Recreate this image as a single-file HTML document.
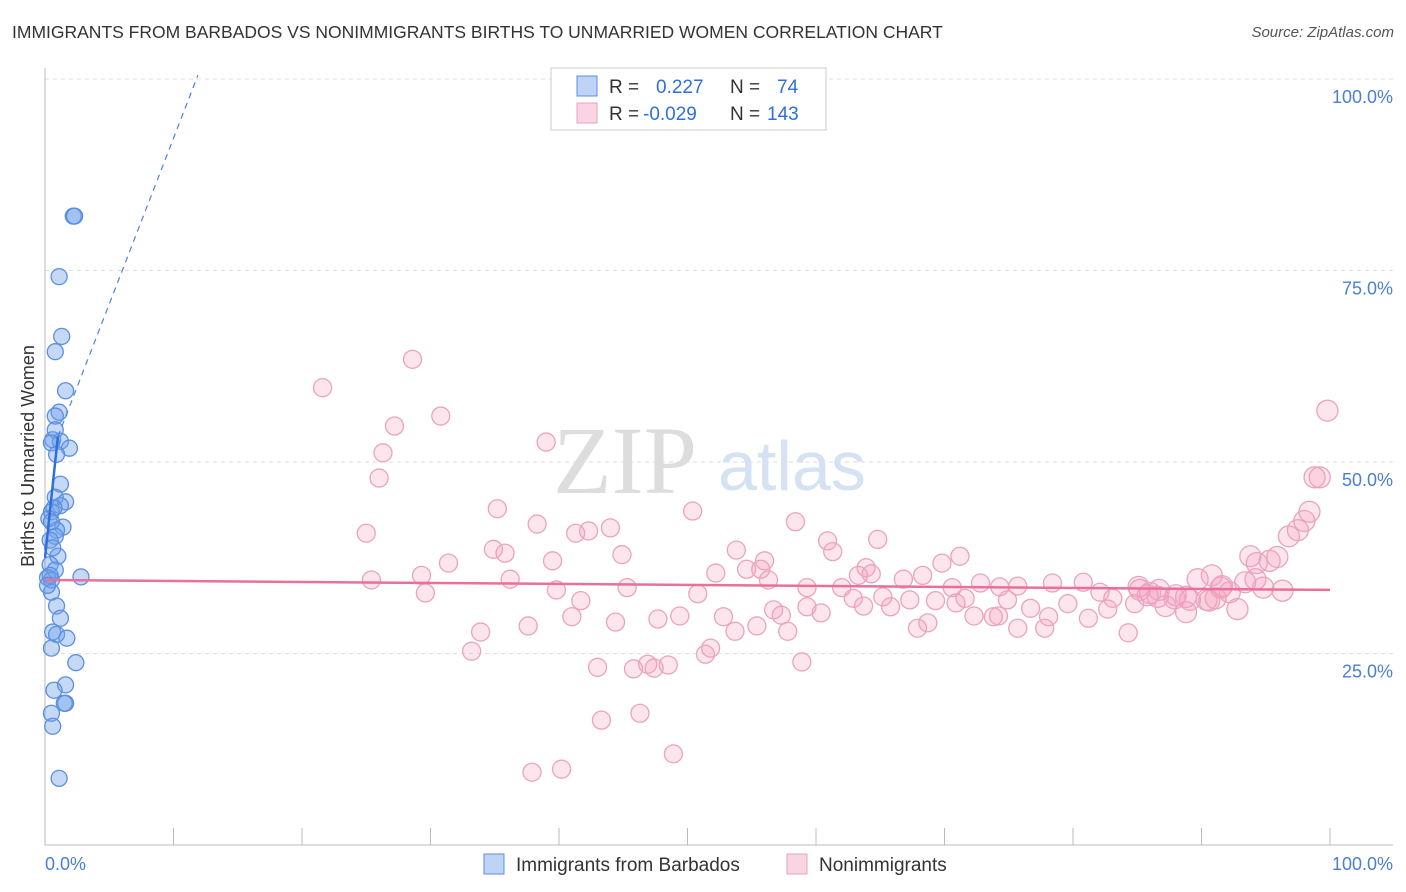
<!DOCTYPE html>
<html><head><meta charset="utf-8">
<style>
body{margin:0;background:#fff;font-family:"Liberation Sans",sans-serif;}
#wrap{position:relative;width:1406px;height:892px;overflow:hidden;}
.title{position:absolute;left:12px;top:22px;font-size:17.5px;color:#333;}
.src{position:absolute;right:12px;top:24px;font-size:15px;color:#555;font-style:italic;}
</style></head><body>
<div id="wrap">
<div class="title">IMMIGRANTS FROM BARBADOS VS NONIMMIGRANTS BIRTHS TO UNMARRIED WOMEN CORRELATION CHART</div>
<div class="src">Source: ZipAtlas.com</div>
<svg id="chart" width="1406" height="892" style="position:absolute;left:0;top:0"></svg>
</div>
<script>
const blueX=[2.2,2.3,1.1,1.3,0.8,1.6,1.1,0.8,0.6,1.2,1.9,0.8,0.5,1.2,0.8,1.6,1.2,0.5,1.4,0.9,0.8,0.4,1.0,0.6,0.4,0.8,0.2,0.5,2.8,0.5,0.9,1.2,0.6,0.9,1.7,0.5,2.4,1.6,0.7,1.6,1.5,0.5,0.6,1.1,0.4,0.2,0.9,0.7,0.3,0.5];
const blueY=[82.1,82.1,74.2,66.4,64.4,59.3,56.5,56.0,52.9,52.7,51.8,54.2,52.5,47.1,45.4,44.8,44.3,43.5,41.5,41.1,40.3,39.8,37.7,38.8,36.6,35.9,34.9,34.6,35.0,33.0,31.2,29.6,27.8,27.5,27.0,25.7,23.8,20.9,20.2,18.5,18.5,17.2,15.5,8.7,35.2,33.9,51.0,44.0,42.6,42.2];
const pinkX=[21.6,28.6,30.8,27.2,26.3,39.0,26.0,25.0,35.2,38.3,41.3,42.3,44.0,50.4,58.4,64.8,60.9,61.3,34.9,35.8,31.4,39.5,44.9,53.8,56.0,54.6,55.7,25.4,29.3,29.6,36.2,39.8,45.3,52.2,56.3,62.0,63.9,63.3,64.3,66.8,68.3,69.8,71.2,70.6,72.8,74.3,75.7,78.4,80.8,82.1,83.1,85.1,86.7,87.9,89.7,91.6,93.4,94.2,96.3,41.7,41.0,44.4,47.7,49.4,50.8,52.8,53.7,55.4,56.7,57.3,57.8,59.3,60.4,59.3,62.9,63.7,65.2,65.8,67.3,69.3,70.9,72.3,73.8,74.9,76.7,78.1,79.6,81.2,82.7,84.8,85.8,87.2,88.8,90.4,91.1,92.2,92.8,94.8,90.6,86.0,88.8,84.3,75.7,77.8,74.2,67.9,68.7,71.6,33.9,37.6,33.2,43.0,45.8,46.9,47.4,48.5,51.4,51.8,58.9,43.3,46.3,37.9,40.2,48.9,93.8,94.3,95.3,95.9,96.8,97.5,98.0,98.4,98.8,99.2,99.8,91.5,88.0,90.8,85.2,86.6,89.1];
const pinkY=[59.7,63.4,56.0,54.7,51.2,52.6,47.9,40.7,43.9,41.9,40.7,41.0,41.4,43.6,42.2,39.9,39.7,38.3,38.6,38.1,36.8,37.1,37.9,38.5,37.1,36.0,36.0,34.6,35.2,32.9,34.7,33.3,33.6,35.5,34.6,33.6,36.2,35.2,35.4,34.7,35.2,36.8,37.7,33.6,34.2,33.7,33.8,34.2,34.3,33.0,32.2,33.7,33.3,32.2,34.7,33.8,34.3,34.7,33.2,31.9,29.8,29.1,29.5,29.9,32.8,29.8,27.9,28.6,30.7,30.0,27.9,31.1,30.3,33.6,32.2,31.2,32.4,31.1,32.0,31.9,31.6,29.9,29.8,32.0,30.9,29.8,31.5,29.6,30.8,31.5,32.6,31.2,30.4,32.0,32.2,33.0,30.8,33.6,31.9,32.9,32.4,27.7,28.3,28.3,29.9,28.3,29.0,32.2,27.8,28.6,25.3,23.2,23.0,23.6,23.1,23.5,24.9,25.7,23.9,16.3,17.2,9.5,9.9,11.9,37.7,36.8,37.1,37.6,40.3,41.1,42.3,43.5,48.0,48.0,56.7,33.6,32.6,35.2,33.3,32.4,32.0];
const yTicks=[25,50,75,100];
const yTickLabels=["25.0%","50.0%","75.0%","100.0%"];
const blueTrend=[[0,37.5],[1.0,53.3]], blueDash=[[1.0,53.3],[11.9,100.5]];
const pinkTrend=[[0,34.6],[100,33.3]];

const NS="http://www.w3.org/2000/svg";
const svg=document.getElementById('chart');
const X=v=>45+v*12.85, Y=v=>845-v*7.66;
function mk(t,a,p){const e=document.createElementNS(NS,t);for(const k in a)e.setAttribute(k,a[k]);(p||svg).appendChild(e);return e;}
// gridlines
yTicks.forEach((t,i)=>{
 const g=mk('line',{x1:45,x2:1393,y1:Y(t),y2:Y(t),stroke:'#ddd','stroke-dasharray':'4,4'});
 
 
 const tx=mk('text',{x:1393,y:Y(t)+24,'text-anchor':'end','font-size':18,fill:'#4a7fd4','font-family':'Liberation Sans, sans-serif'});
 tx.textContent=yTickLabels[i];
 
 
});
// axes
let a=mk('line',{x1:45,x2:45,y1:68,y2:845,stroke:'#bbb'});

a=mk('line',{x1:45,x2:1393,y1:845,y2:845,stroke:'#bbb'});

for(let i=0;i<=10;i++){const t=mk('line',{x1:X(i*10),x2:X(i*10),y1:828,y2:845,stroke:'#bbb'});
 }
// watermark
let w=mk('text',{x:553,y:493,'font-size':96,fill:'#ddd','font-family':'Liberation Serif, serif'});w.textContent='ZIP';

w=mk('text',{x:718,y:490,'font-size':70,fill:'#d4e2f4','font-family':'Liberation Sans, sans-serif'});w.textContent='atlas';

// points
pinkX.forEach((x,i)=>{const c=mk('circle',{cx:X(x),cy:Y(pinkY[i]),r:x>85?10.5:9,fill:'rgba(244,160,190,0.28)',stroke:'#eba3bd','stroke-width':1.3});
 });
blueX.forEach((x,i)=>{const c=mk('circle',{cx:X(x),cy:Y(blueY[i]),r:8,fill:'rgba(110,160,235,0.4)',stroke:'#5b8fe0','stroke-width':1.3});
 });
// trends
let l=mk('line',{x1:X(pinkTrend[0][0]),y1:Y(pinkTrend[0][1]),x2:X(pinkTrend[1][0]),y2:Y(pinkTrend[1][1]),stroke:'#e8709a','stroke-width':2.5});

l=mk('line',{x1:X(blueTrend[0][0]),y1:Y(blueTrend[0][1]),x2:X(blueTrend[1][0]),y2:Y(blueTrend[1][1]),stroke:'#2f6fdc','stroke-width':2.5});

l=mk('line',{x1:X(blueDash[0][0]),y1:Y(blueDash[0][1]),x2:X(blueDash[1][0]),y2:Y(blueDash[1][1]),stroke:'#4a82e0','stroke-width':1.2,'stroke-dasharray':'6,5'});

// x labels
let xl=mk('text',{x:45,y:870,'font-size':18,fill:'#4a7fd4','font-family':'Liberation Sans, sans-serif'});xl.textContent='0.0%';

xl=mk('text',{x:1393,y:870,'text-anchor':'end','font-size':18,fill:'#4a7fd4','font-family':'Liberation Sans, sans-serif'});xl.textContent='100.0%';

// y title
let yt=mk('text',{x:0,y:0,transform:'translate(34,456) rotate(-90)','text-anchor':'middle','font-size':18,fill:'#333','font-family':'Liberation Sans, sans-serif'});yt.textContent='Births to Unmarried Women';

// top legend
let lg=mk('rect',{x:551,y:68,width:275,height:62,fill:'#fff',stroke:'#ccc'});

function stat(y,fill,stroke,r,n,nm){
 const s=mk('rect',{x:577,y:y-10,width:20,height:20,fill:fill,stroke:stroke});
 
 const t=mk('text',{x:609,y:y+7,'font-size':19,fill:'#333','font-family':'Liberation Sans, sans-serif'});
 t.innerHTML='R = <tspan fill="#2f6fdc" x="'+(r[0]=='-'?643:656)+'">'+r+'</tspan><tspan x="730">N = </tspan><tspan fill="#2f6fdc" x="'+(n.length>2?767:777)+'">'+n+'</tspan>';
 
}
stat(86,'rgba(110,160,235,0.45)','#5b8fe0','0.227','74','barbados');
stat(113,'rgba(244,160,190,0.45)','#eba3bd','-0.029','143','nonimmigrants');
// bottom legend
function bl(x,fill,stroke,label,nm){
 const s=mk('rect',{x:x,y:854,width:20,height:20,fill:fill,stroke:stroke});
 
 const t=mk('text',{x:x+32,y:871,'font-size':19,fill:'#333','font-family':'Liberation Sans, sans-serif'});t.textContent=label;
 
}
bl(484,'rgba(110,160,235,0.45)','#5b8fe0','Immigrants from Barbados','barbados');
bl(787,'rgba(244,160,190,0.45)','#eba3bd','Nonimmigrants','nonimmigrants');
</script>
</body></html>
